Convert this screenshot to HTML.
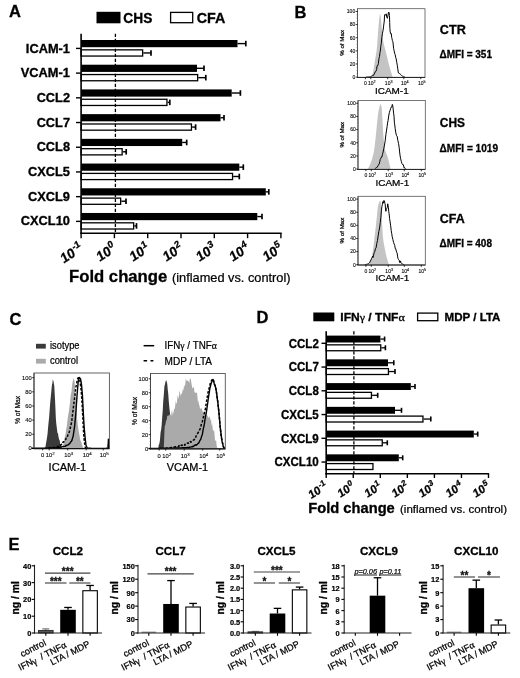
<!DOCTYPE html>
<html><head><meta charset="utf-8"><style>
html,body{margin:0;padding:0;background:#fff;width:520px;height:678px;overflow:hidden;}
svg{display:block;filter:blur(0.35px);}
text{font-family:"Liberation Sans",sans-serif;stroke:#000;stroke-width:0.24px;}
text[font-weight="bold"]{stroke-width:0.3px;}
text[font-size="5"],text[font-size="5.8"]{stroke-width:0.12px;fill:#111;}
text[font-size="7.9"]{stroke-width:0.22px;}
</style></head><body>
<svg width="520" height="678" viewBox="0 0 520 678">
<rect width="520" height="678" fill="#fff"/>
<text x="9" y="17.2" font-size="16.5" font-weight="bold">A</text>
<rect x="96.5" y="11.8" width="24" height="11.5" fill="#000"/>
<text x="123.3" y="22.6" font-size="13.8" font-weight="bold" textLength="29" lengthAdjust="spacingAndGlyphs">CHS</text>
<rect x="170.6" y="12.4" width="22.1" height="10.3" fill="#fff" stroke="#000" stroke-width="1.3"/>
<text x="196.8" y="22.6" font-size="13.8" font-weight="bold" textLength="28.6" lengthAdjust="spacingAndGlyphs">CFA</text>
<rect x="81.1" y="40" width="156.4" height="7.2" fill="#000"/>
<line x1="237.5" y1="43.6" x2="245.8" y2="43.6" stroke="#000" stroke-width="1.4"/>
<line x1="245.8" y1="40.8" x2="245.8" y2="46.4" stroke="#000" stroke-width="1.7"/>
<rect x="81.1" y="49.85" width="61.55" height="6.2" fill="#fff" stroke="#000" stroke-width="1.3"/>
<line x1="143.3" y1="52.95" x2="151" y2="52.95" stroke="#000" stroke-width="1.4"/>
<line x1="151" y1="50.15" x2="151" y2="55.75" stroke="#000" stroke-width="1.7"/>
<line x1="76" y1="48.4" x2="81.1" y2="48.4" stroke="#000" stroke-width="1.4"/>
<text x="70" y="52.5" font-size="12" font-weight="bold" text-anchor="end" textLength="44.17" lengthAdjust="spacingAndGlyphs">ICAM-1</text>
<rect x="81.1" y="64.71" width="115.9" height="7.2" fill="#000"/>
<line x1="197" y1="68.31" x2="204" y2="68.31" stroke="#000" stroke-width="1.4"/>
<line x1="204" y1="65.51" x2="204" y2="71.11" stroke="#000" stroke-width="1.7"/>
<rect x="81.1" y="74.56" width="116.55" height="6.2" fill="#fff" stroke="#000" stroke-width="1.3"/>
<line x1="198.3" y1="77.66" x2="205.8" y2="77.66" stroke="#000" stroke-width="1.4"/>
<line x1="205.8" y1="74.86" x2="205.8" y2="80.46" stroke="#000" stroke-width="1.7"/>
<line x1="76" y1="73.11" x2="81.1" y2="73.11" stroke="#000" stroke-width="1.4"/>
<text x="70" y="77.21" font-size="12" font-weight="bold" text-anchor="end" textLength="49.23" lengthAdjust="spacingAndGlyphs">VCAM-1</text>
<rect x="81.1" y="89.42" width="150.6" height="7.2" fill="#000"/>
<line x1="231.7" y1="93.02" x2="240.4" y2="93.02" stroke="#000" stroke-width="1.4"/>
<line x1="240.4" y1="90.22" x2="240.4" y2="95.82" stroke="#000" stroke-width="1.7"/>
<rect x="81.1" y="99.27" width="85.85" height="6.2" fill="#fff" stroke="#000" stroke-width="1.3"/>
<line x1="167.6" y1="102.37" x2="169.8" y2="102.37" stroke="#000" stroke-width="1.4"/>
<line x1="169.8" y1="99.57" x2="169.8" y2="105.17" stroke="#000" stroke-width="1.7"/>
<line x1="76" y1="97.82" x2="81.1" y2="97.82" stroke="#000" stroke-width="1.4"/>
<text x="70" y="101.92" font-size="12" font-weight="bold" text-anchor="end" textLength="33.35" lengthAdjust="spacingAndGlyphs">CCL2</text>
<rect x="81.1" y="114.13" width="139.4" height="7.2" fill="#000"/>
<line x1="220.5" y1="117.73" x2="224" y2="117.73" stroke="#000" stroke-width="1.4"/>
<line x1="224" y1="114.93" x2="224" y2="120.53" stroke="#000" stroke-width="1.7"/>
<rect x="81.1" y="123.98" width="110.35" height="6.2" fill="#fff" stroke="#000" stroke-width="1.3"/>
<line x1="192.1" y1="127.08" x2="195.6" y2="127.08" stroke="#000" stroke-width="1.4"/>
<line x1="195.6" y1="124.28" x2="195.6" y2="129.88" stroke="#000" stroke-width="1.7"/>
<line x1="76" y1="122.53" x2="81.1" y2="122.53" stroke="#000" stroke-width="1.4"/>
<text x="70" y="126.63" font-size="12" font-weight="bold" text-anchor="end" textLength="33.35" lengthAdjust="spacingAndGlyphs">CCL7</text>
<rect x="81.1" y="138.84" width="101.1" height="7.2" fill="#000"/>
<line x1="182.2" y1="142.44" x2="186.7" y2="142.44" stroke="#000" stroke-width="1.4"/>
<line x1="186.7" y1="139.64" x2="186.7" y2="145.24" stroke="#000" stroke-width="1.7"/>
<rect x="81.1" y="148.69" width="41.05" height="6.2" fill="#fff" stroke="#000" stroke-width="1.3"/>
<line x1="122.8" y1="151.79" x2="126.2" y2="151.79" stroke="#000" stroke-width="1.4"/>
<line x1="126.2" y1="148.99" x2="126.2" y2="154.59" stroke="#000" stroke-width="1.7"/>
<line x1="76" y1="147.24" x2="81.1" y2="147.24" stroke="#000" stroke-width="1.4"/>
<text x="70" y="151.34" font-size="12" font-weight="bold" text-anchor="end" textLength="33.35" lengthAdjust="spacingAndGlyphs">CCL8</text>
<rect x="81.1" y="163.55" width="158.2" height="7.2" fill="#000"/>
<line x1="239.3" y1="167.15" x2="243.3" y2="167.15" stroke="#000" stroke-width="1.4"/>
<line x1="243.3" y1="164.35" x2="243.3" y2="169.95" stroke="#000" stroke-width="1.7"/>
<rect x="81.1" y="173.4" width="151.45" height="6.2" fill="#fff" stroke="#000" stroke-width="1.3"/>
<line x1="233.2" y1="176.5" x2="239.3" y2="176.5" stroke="#000" stroke-width="1.4"/>
<line x1="239.3" y1="173.7" x2="239.3" y2="179.3" stroke="#000" stroke-width="1.7"/>
<line x1="76" y1="171.95" x2="81.1" y2="171.95" stroke="#000" stroke-width="1.4"/>
<text x="70" y="176.05" font-size="12" font-weight="bold" text-anchor="end" textLength="42.02" lengthAdjust="spacingAndGlyphs">CXCL5</text>
<rect x="81.1" y="188.26" width="184.7" height="7.2" fill="#000"/>
<line x1="265.8" y1="191.86" x2="268.8" y2="191.86" stroke="#000" stroke-width="1.4"/>
<line x1="268.8" y1="189.06" x2="268.8" y2="194.66" stroke="#000" stroke-width="1.7"/>
<rect x="81.1" y="198.11" width="39.55" height="6.2" fill="#fff" stroke="#000" stroke-width="1.3"/>
<line x1="121.3" y1="201.21" x2="126" y2="201.21" stroke="#000" stroke-width="1.4"/>
<line x1="126" y1="198.41" x2="126" y2="204.01" stroke="#000" stroke-width="1.7"/>
<line x1="76" y1="196.66" x2="81.1" y2="196.66" stroke="#000" stroke-width="1.4"/>
<text x="70" y="200.76" font-size="12" font-weight="bold" text-anchor="end" textLength="42.02" lengthAdjust="spacingAndGlyphs">CXCL9</text>
<rect x="81.1" y="212.97" width="176.2" height="7.2" fill="#000"/>
<line x1="257.3" y1="216.57" x2="262" y2="216.57" stroke="#000" stroke-width="1.4"/>
<line x1="262" y1="213.77" x2="262" y2="219.37" stroke="#000" stroke-width="1.7"/>
<rect x="81.1" y="222.82" width="52.55" height="6.2" fill="#fff" stroke="#000" stroke-width="1.3"/>
<line x1="134.3" y1="225.92" x2="136.5" y2="225.92" stroke="#000" stroke-width="1.4"/>
<line x1="136.5" y1="223.12" x2="136.5" y2="228.72" stroke="#000" stroke-width="1.7"/>
<line x1="76" y1="221.37" x2="81.1" y2="221.37" stroke="#000" stroke-width="1.4"/>
<text x="70" y="225.47" font-size="12" font-weight="bold" text-anchor="end" textLength="49.25" lengthAdjust="spacingAndGlyphs">CXCL10</text>
<line x1="115.4" y1="33.8" x2="115.4" y2="233" stroke="#000" stroke-width="1.3" stroke-dasharray="3.2 1.8"/>
<line x1="81.1" y1="33.8" x2="81.1" y2="234" stroke="#000" stroke-width="1.6"/>
<line x1="80.3" y1="233.3" x2="281.6" y2="233.3" stroke="#000" stroke-width="1.6"/>
<line x1="81.1" y1="233" x2="81.1" y2="238.2" stroke="#000" stroke-width="1.4"/>
<text transform="translate(83.1 251) rotate(-33) skewX(-8)" font-size="13.5" font-weight="bold" text-anchor="end">10<tspan font-size="9.5" dy="-5.5">-1</tspan></text>
<line x1="114.4" y1="233" x2="114.4" y2="238.2" stroke="#000" stroke-width="1.4"/>
<text transform="translate(116.4 251) rotate(-33) skewX(-8)" font-size="13.5" font-weight="bold" text-anchor="end">10<tspan font-size="9.5" dy="-5.5">0</tspan></text>
<line x1="147.7" y1="233" x2="147.7" y2="238.2" stroke="#000" stroke-width="1.4"/>
<text transform="translate(149.7 251) rotate(-33) skewX(-8)" font-size="13.5" font-weight="bold" text-anchor="end">10<tspan font-size="9.5" dy="-5.5">1</tspan></text>
<line x1="181" y1="233" x2="181" y2="238.2" stroke="#000" stroke-width="1.4"/>
<text transform="translate(183 251) rotate(-33) skewX(-8)" font-size="13.5" font-weight="bold" text-anchor="end">10<tspan font-size="9.5" dy="-5.5">2</tspan></text>
<line x1="214.3" y1="233" x2="214.3" y2="238.2" stroke="#000" stroke-width="1.4"/>
<text transform="translate(216.3 251) rotate(-33) skewX(-8)" font-size="13.5" font-weight="bold" text-anchor="end">10<tspan font-size="9.5" dy="-5.5">3</tspan></text>
<line x1="247.6" y1="233" x2="247.6" y2="238.2" stroke="#000" stroke-width="1.4"/>
<text transform="translate(249.6 251) rotate(-33) skewX(-8)" font-size="13.5" font-weight="bold" text-anchor="end">10<tspan font-size="9.5" dy="-5.5">4</tspan></text>
<line x1="280.9" y1="233" x2="280.9" y2="238.2" stroke="#000" stroke-width="1.4"/>
<text transform="translate(282.9 251) rotate(-33) skewX(-8)" font-size="13.5" font-weight="bold" text-anchor="end">10<tspan font-size="9.5" dy="-5.5">5</tspan></text>
<text x="69" y="282.4" font-size="16.2" font-weight="bold" textLength="98.3" lengthAdjust="spacingAndGlyphs">Fold change</text>
<text x="172" y="282" font-size="13" textLength="118.5" lengthAdjust="spacingAndGlyphs">(inflamed vs. control)</text>
<text x="294.6" y="18.3" font-size="16.5" font-weight="bold">B</text>
<path d="M371.3 77.1 L371.92 75.65 L372.7 73.36 L373.38 70.2 L374 66.67 L374.51 63.36 L375 60.04 L375.61 56.69 L376.2 53.35 L376.62 50.5 L377 46.92 L377.44 41.07 L377.9 34.46 L378.41 27.86 L378.9 22 L379.33 18.02 L379.7 15.44 L379.95 14.04 L380.2 14.12 L380.57 15.93 L381 19.37 L381.48 24.99 L382 31.18 L382.58 36.49 L383.2 41.02 L383.82 44.04 L384.5 46.66 L385.04 48.81 L385.63 51.08 L386.2 53.35 L386.74 55.59 L387.26 57.82 L387.8 60.04 L388.35 62.25 L388.91 64.46 L389.5 66.67 L390 68.41 L390.54 70.2 L391.06 71.89 L391.5 73.36 L392.18 75.65 L392.6 77.1 L392.6 77.1 L371.3 77.1 Z" fill="#c4c4c4" stroke="none"/>
<path d="M366 77.1 L366.32 77.08 L366.74 77.07 L367.24 77.06 L367.8 77.05 L368.4 77.02 L369.01 76.97 L369.61 76.88 L370.18 76.75 L370.7 76.58 L371.24 76.33 L371.79 76.04 L372.32 75.72 L372.84 75.35 L373.35 75.63 L373.83 74.36 L374.28 74.29 L374.7 73.09 L375.44 71.54 L376.07 71.2 L376.61 69.5 L377.1 65.78 L377.8 65.54 L378.4 63.5 L378.94 58.66 L379.51 56.58 L380 52.47 L380.44 50 L380.8 46.3 L381.27 43.47 L381.8 37.91 L382.46 33.16 L383.1 30.14 L383.6 26.14 L384 23.06 L384.27 21.02 L384.5 16.07 L384.76 14.73 L385.1 14.65 L385.61 15.26 L386.2 13.82 L386.82 17.18 L387.4 18.27 L387.84 16.2 L388.2 14.22 L388.51 12.27 L388.8 13.09 L389.12 12.71 L389.4 15.58 L389.56 18.03 L389.7 22.51 L389.9 28.53 L390.2 31.87 L390.74 33.83 L391.3 33.63 L391.66 37.2 L392 38.72 L392.45 40.76 L392.9 41.66 L393.24 44.92 L393.6 48.3 L394.04 50.38 L394.6 53.13 L395.11 54.43 L395.68 57.29 L396.2 58.92 L396.75 62.38 L397.3 65.38 L397.79 68.86 L398.34 72.91 L398.9 73.07 L399.47 73.54 L400.05 73.71 L400.6 74.62 L401.32 75.3 L402 75.79 L402.63 76.21 L403.3 76.58 L403.9 76.79 L404.54 76.97 L405 77.1" fill="none" stroke="#000" stroke-width="1.0" stroke-linejoin="round"/>
<rect x="357.5" y="8.7" width="67.5" height="68.7" fill="none" stroke="#555" stroke-width="0.8"/>
<line x1="357.5" y1="8.7" x2="357.5" y2="77.8" stroke="#555" stroke-width="1"/>
<line x1="357.1" y1="77.4" x2="425" y2="77.4" stroke="#222" stroke-width="1"/>
<line x1="356.5" y1="73.82" x2="357.5" y2="73.82" stroke="#666" stroke-width="0.6"/>
<line x1="356.5" y1="70.54" x2="357.5" y2="70.54" stroke="#666" stroke-width="0.6"/>
<line x1="356.5" y1="67.26" x2="357.5" y2="67.26" stroke="#666" stroke-width="0.6"/>
<line x1="356.5" y1="60.7" x2="357.5" y2="60.7" stroke="#666" stroke-width="0.6"/>
<line x1="356.5" y1="57.42" x2="357.5" y2="57.42" stroke="#666" stroke-width="0.6"/>
<line x1="356.5" y1="54.14" x2="357.5" y2="54.14" stroke="#666" stroke-width="0.6"/>
<line x1="356.5" y1="47.58" x2="357.5" y2="47.58" stroke="#666" stroke-width="0.6"/>
<line x1="356.5" y1="44.3" x2="357.5" y2="44.3" stroke="#666" stroke-width="0.6"/>
<line x1="356.5" y1="41.02" x2="357.5" y2="41.02" stroke="#666" stroke-width="0.6"/>
<line x1="356.5" y1="34.46" x2="357.5" y2="34.46" stroke="#666" stroke-width="0.6"/>
<line x1="356.5" y1="31.18" x2="357.5" y2="31.18" stroke="#666" stroke-width="0.6"/>
<line x1="356.5" y1="27.9" x2="357.5" y2="27.9" stroke="#666" stroke-width="0.6"/>
<line x1="356.5" y1="21.34" x2="357.5" y2="21.34" stroke="#666" stroke-width="0.6"/>
<line x1="356.5" y1="18.06" x2="357.5" y2="18.06" stroke="#666" stroke-width="0.6"/>
<line x1="356.5" y1="14.78" x2="357.5" y2="14.78" stroke="#666" stroke-width="0.6"/>
<line x1="355.7" y1="77.1" x2="357.5" y2="77.1" stroke="#000" stroke-width="0.8"/>
<text x="355.2" y="78.9" font-size="5" text-anchor="end">0</text>
<line x1="355.7" y1="63.98" x2="357.5" y2="63.98" stroke="#000" stroke-width="0.8"/>
<text x="355.2" y="65.78" font-size="5" text-anchor="end">20</text>
<line x1="355.7" y1="50.86" x2="357.5" y2="50.86" stroke="#000" stroke-width="0.8"/>
<text x="355.2" y="52.66" font-size="5" text-anchor="end">40</text>
<line x1="355.7" y1="37.74" x2="357.5" y2="37.74" stroke="#000" stroke-width="0.8"/>
<text x="355.2" y="39.54" font-size="5" text-anchor="end">60</text>
<line x1="355.7" y1="24.62" x2="357.5" y2="24.62" stroke="#000" stroke-width="0.8"/>
<text x="355.2" y="26.42" font-size="5" text-anchor="end">80</text>
<line x1="355.7" y1="11.5" x2="357.5" y2="11.5" stroke="#000" stroke-width="0.8"/>
<text x="355.2" y="13.3" font-size="5" text-anchor="end">100</text>
<text x="343.6" y="42.9" font-size="6.2" text-anchor="middle" transform="rotate(-90 343.6 42.9)" fill="#222">% of Max</text>
<line x1="365.4" y1="77.4" x2="365.4" y2="79.2" stroke="#000" stroke-width="0.8"/>
<text x="365.4" y="85.3" font-size="5" text-anchor="middle">0</text>
<line x1="370.8" y1="77.4" x2="370.8" y2="79.2" stroke="#000" stroke-width="0.8"/>
<text x="371.8" y="85.3" font-size="5" text-anchor="middle">10<tspan font-size="3.75" dy="-2">2</tspan></text>
<line x1="387.7" y1="77.4" x2="387.7" y2="79.2" stroke="#000" stroke-width="0.8"/>
<text x="388.7" y="85.3" font-size="5" text-anchor="middle">10<tspan font-size="3.75" dy="-2">3</tspan></text>
<line x1="403.8" y1="77.4" x2="403.8" y2="79.2" stroke="#000" stroke-width="0.8"/>
<text x="404.8" y="85.3" font-size="5" text-anchor="middle">10<tspan font-size="3.75" dy="-2">4</tspan></text>
<line x1="420.8" y1="77.4" x2="420.8" y2="79.2" stroke="#000" stroke-width="0.8"/>
<text x="421.8" y="85.3" font-size="5" text-anchor="middle">10<tspan font-size="3.75" dy="-2">5</tspan></text>
<text x="375" y="93.8" font-size="9.8" textLength="33.7" lengthAdjust="spacingAndGlyphs">ICAM-1</text>
<text x="439.8" y="33.9" font-size="12.6" font-weight="bold" textLength="26" lengthAdjust="spacingAndGlyphs">CTR</text>
<text x="439.5" y="57.6" font-size="10.6" font-weight="bold" textLength="52.5" lengthAdjust="spacingAndGlyphs">ΔMFI = 351</text>
<path d="M367.64 169.1 L368.02 168.46 L368.56 167.54 L369.17 166.45 L369.74 165.28 L370.27 164.08 L370.8 162.77 L371.32 161.33 L371.85 159.69 L372.39 157.85 L372.94 155.83 L373.47 153.63 L373.95 151.27 L374.7 146.03 L375.36 140.08 L376.06 133.13 L376.76 126 L377.46 119.28 L378.16 113.43 L378.88 109.26 L379.57 106.39 L380.16 104.68 L380.69 104.29 L381.21 105.2 L381.67 107.77 L382.04 112.83 L382.38 119.03 L382.71 125.35 L383.08 131.66 L383.54 137.6 L384.06 142.85 L384.59 146.8 L385.18 149.89 L385.87 152.17 L386.59 154.1 L387.29 156.12 L387.99 158.31 L388.72 161.11 L389.4 163.9 L389.95 166.3 L390.38 168.11 L390.65 168.87 L390.8 169.1 L390.8 169.1 L367.64 169.1 Z" fill="#c4c4c4" stroke="none"/>
<path d="M374.65 169.1 L375.03 168.72 L375.57 168.21 L376.2 167.57 L376.85 167.53 L377.46 167.05 L378.03 165.32 L378.62 164.86 L379.2 163.91 L379.75 161.83 L380.27 159.31 L380.86 158.26 L381.41 157.01 L381.92 157.05 L382.38 154.72 L383.12 152.02 L383.78 148.64 L384.48 145.1 L385.18 140.83 L385.91 134.34 L386.59 130.07 L387.1 126.56 L387.57 123.1 L388.1 120.38 L388.69 116.04 L389.39 112.52 L390.1 110.26 L390.68 108.44 L391.22 107.04 L391.8 106.99 L392.34 104.4 L392.78 105.85 L393.19 109.21 L393.62 113.23 L394.03 116.27 L394.37 122.22 L394.73 124.86 L395.18 128.5 L395.71 132.19 L396.39 135.27 L397.12 136.18 L397.84 140.41 L398.52 143.29 L399.11 147.23 L399.64 151.97 L400.12 155.95 L400.63 158.71 L401.3 161.32 L402.03 163.67 L402.69 164.73 L403.43 164.79 L403.96 167.72 L404.57 167.53 L405.14 168.46 L405.54 169.1" fill="none" stroke="#000" stroke-width="1.0" stroke-linejoin="round"/>
<rect x="358" y="100.5" width="67.3" height="68.9" fill="none" stroke="#555" stroke-width="0.8"/>
<line x1="358" y1="100.5" x2="358" y2="169.8" stroke="#555" stroke-width="1"/>
<line x1="357.6" y1="169.4" x2="425.3" y2="169.4" stroke="#222" stroke-width="1"/>
<line x1="357" y1="165.81" x2="358" y2="165.81" stroke="#666" stroke-width="0.6"/>
<line x1="357" y1="162.52" x2="358" y2="162.52" stroke="#666" stroke-width="0.6"/>
<line x1="357" y1="159.23" x2="358" y2="159.23" stroke="#666" stroke-width="0.6"/>
<line x1="357" y1="152.65" x2="358" y2="152.65" stroke="#666" stroke-width="0.6"/>
<line x1="357" y1="149.36" x2="358" y2="149.36" stroke="#666" stroke-width="0.6"/>
<line x1="357" y1="146.07" x2="358" y2="146.07" stroke="#666" stroke-width="0.6"/>
<line x1="357" y1="139.49" x2="358" y2="139.49" stroke="#666" stroke-width="0.6"/>
<line x1="357" y1="136.2" x2="358" y2="136.2" stroke="#666" stroke-width="0.6"/>
<line x1="357" y1="132.91" x2="358" y2="132.91" stroke="#666" stroke-width="0.6"/>
<line x1="357" y1="126.33" x2="358" y2="126.33" stroke="#666" stroke-width="0.6"/>
<line x1="357" y1="123.04" x2="358" y2="123.04" stroke="#666" stroke-width="0.6"/>
<line x1="357" y1="119.75" x2="358" y2="119.75" stroke="#666" stroke-width="0.6"/>
<line x1="357" y1="113.17" x2="358" y2="113.17" stroke="#666" stroke-width="0.6"/>
<line x1="357" y1="109.88" x2="358" y2="109.88" stroke="#666" stroke-width="0.6"/>
<line x1="357" y1="106.59" x2="358" y2="106.59" stroke="#666" stroke-width="0.6"/>
<line x1="356.2" y1="169.1" x2="358" y2="169.1" stroke="#000" stroke-width="0.8"/>
<text x="355.7" y="170.9" font-size="5" text-anchor="end">0</text>
<line x1="356.2" y1="155.94" x2="358" y2="155.94" stroke="#000" stroke-width="0.8"/>
<text x="355.7" y="157.74" font-size="5" text-anchor="end">20</text>
<line x1="356.2" y1="142.78" x2="358" y2="142.78" stroke="#000" stroke-width="0.8"/>
<text x="355.7" y="144.58" font-size="5" text-anchor="end">40</text>
<line x1="356.2" y1="129.62" x2="358" y2="129.62" stroke="#000" stroke-width="0.8"/>
<text x="355.7" y="131.42" font-size="5" text-anchor="end">60</text>
<line x1="356.2" y1="116.46" x2="358" y2="116.46" stroke="#000" stroke-width="0.8"/>
<text x="355.7" y="118.26" font-size="5" text-anchor="end">80</text>
<line x1="356.2" y1="103.3" x2="358" y2="103.3" stroke="#000" stroke-width="0.8"/>
<text x="355.7" y="105.1" font-size="5" text-anchor="end">100</text>
<text x="343.6" y="134.7" font-size="6.2" text-anchor="middle" transform="rotate(-90 343.6 134.7)" fill="#222">% of Max</text>
<line x1="365.9" y1="169.4" x2="365.9" y2="171.2" stroke="#000" stroke-width="0.8"/>
<text x="365.9" y="177.3" font-size="5" text-anchor="middle">0</text>
<line x1="371.3" y1="169.4" x2="371.3" y2="171.2" stroke="#000" stroke-width="0.8"/>
<text x="372.3" y="177.3" font-size="5" text-anchor="middle">10<tspan font-size="3.75" dy="-2">2</tspan></text>
<line x1="388.2" y1="169.4" x2="388.2" y2="171.2" stroke="#000" stroke-width="0.8"/>
<text x="389.2" y="177.3" font-size="5" text-anchor="middle">10<tspan font-size="3.75" dy="-2">3</tspan></text>
<line x1="404.3" y1="169.4" x2="404.3" y2="171.2" stroke="#000" stroke-width="0.8"/>
<text x="405.3" y="177.3" font-size="5" text-anchor="middle">10<tspan font-size="3.75" dy="-2">4</tspan></text>
<line x1="421.3" y1="169.4" x2="421.3" y2="171.2" stroke="#000" stroke-width="0.8"/>
<text x="422.3" y="177.3" font-size="5" text-anchor="middle">10<tspan font-size="3.75" dy="-2">5</tspan></text>
<text x="375.5" y="185.8" font-size="9.8" textLength="33.7" lengthAdjust="spacingAndGlyphs">ICAM-1</text>
<text x="439.8" y="126.7" font-size="12.6" font-weight="bold" textLength="25.2" lengthAdjust="spacingAndGlyphs">CHS</text>
<text x="439.5" y="151.5" font-size="10.6" font-weight="bold" textLength="58.5" lengthAdjust="spacingAndGlyphs">ΔMFI = 1019</text>
<path d="M369.04 264.7 L369.43 263.81 L370 262.55 L370.61 261.06 L371.14 259.52 L371.89 256.3 L372.55 252.5 L373.25 247.96 L373.95 242.72 L374.65 236.6 L375.36 230.13 L376.09 223.65 L376.76 217.53 L377.27 212.16 L377.74 207.76 L378.3 204.85 L378.87 202.9 L379.44 201.38 L379.99 200.81 L380.51 201.35 L380.97 203.56 L381.34 208.47 L381.67 214.78 L382.03 221.86 L382.38 228.75 L382.69 233.99 L383.08 238.53 L383.74 242.9 L384.48 246.92 L385.19 250.61 L385.89 253.94 L386.59 256.91 L387.29 259.52 L388.03 261.9 L388.69 263.72 L389.13 264.47 L389.4 264.7 L389.4 264.7 L369.04 264.7 Z" fill="#c4c4c4" stroke="none"/>
<path d="M364.83 264.7 L365.16 264.62 L365.62 264.52 L366.16 264.41 L366.75 264.27 L367.34 264.11 L367.88 263.92 L368.34 263.72 L368.96 263.32 L369.48 262.87 L369.95 261.99 L370.44 260.98 L370.97 259.96 L371.5 258.53 L372.02 257.94 L372.55 256.31 L373.09 257.49 L373.64 255.13 L374.17 252.63 L374.65 252.11 L375.4 248.79 L376.06 247.94 L376.76 243.7 L377.46 240.63 L378.16 235.84 L378.87 231.38 L379.59 228.02 L380.27 222.48 L380.86 217.33 L381.39 210.87 L381.89 206.54 L382.38 204.45 L382.86 201.7 L383.36 203.13 L383.94 200.43 L384.48 201.06 L384.86 203.37 L385.18 204.03 L385.52 208.95 L385.89 211.33 L386.37 209.24 L386.87 208.23 L387.31 207.4 L387.71 203.79 L388.07 205.58 L388.41 207.29 L388.74 211.69 L389.11 213.62 L389.58 218.48 L390.1 221.95 L390.66 225.79 L391.22 230.66 L391.69 233.4 L392.2 236.65 L392.9 239.58 L393.61 242.49 L394.2 244.1 L394.73 245.27 L395.23 248.67 L395.71 248.55 L396.21 250.81 L396.7 252.34 L397.12 253.06 L397.54 256.09 L397.99 258.39 L398.52 259.57 L399.15 260.12 L399.92 262.78 L400.4 260.92 L400.93 262.74 L401.49 263.27 L402.03 263.72 L402.61 264.06 L403.22 264.34 L403.76 264.55 L404.14 264.7" fill="none" stroke="#000" stroke-width="1.0" stroke-linejoin="round"/>
<rect x="358" y="196.3" width="67.3" height="68.7" fill="none" stroke="#555" stroke-width="0.8"/>
<line x1="358" y1="196.3" x2="358" y2="265.4" stroke="#555" stroke-width="1"/>
<line x1="357.6" y1="265" x2="425.3" y2="265" stroke="#222" stroke-width="1"/>
<line x1="357" y1="261.42" x2="358" y2="261.42" stroke="#666" stroke-width="0.6"/>
<line x1="357" y1="258.14" x2="358" y2="258.14" stroke="#666" stroke-width="0.6"/>
<line x1="357" y1="254.86" x2="358" y2="254.86" stroke="#666" stroke-width="0.6"/>
<line x1="357" y1="248.3" x2="358" y2="248.3" stroke="#666" stroke-width="0.6"/>
<line x1="357" y1="245.02" x2="358" y2="245.02" stroke="#666" stroke-width="0.6"/>
<line x1="357" y1="241.74" x2="358" y2="241.74" stroke="#666" stroke-width="0.6"/>
<line x1="357" y1="235.18" x2="358" y2="235.18" stroke="#666" stroke-width="0.6"/>
<line x1="357" y1="231.9" x2="358" y2="231.9" stroke="#666" stroke-width="0.6"/>
<line x1="357" y1="228.62" x2="358" y2="228.62" stroke="#666" stroke-width="0.6"/>
<line x1="357" y1="222.06" x2="358" y2="222.06" stroke="#666" stroke-width="0.6"/>
<line x1="357" y1="218.78" x2="358" y2="218.78" stroke="#666" stroke-width="0.6"/>
<line x1="357" y1="215.5" x2="358" y2="215.5" stroke="#666" stroke-width="0.6"/>
<line x1="357" y1="208.94" x2="358" y2="208.94" stroke="#666" stroke-width="0.6"/>
<line x1="357" y1="205.66" x2="358" y2="205.66" stroke="#666" stroke-width="0.6"/>
<line x1="357" y1="202.38" x2="358" y2="202.38" stroke="#666" stroke-width="0.6"/>
<line x1="356.2" y1="264.7" x2="358" y2="264.7" stroke="#000" stroke-width="0.8"/>
<text x="355.7" y="266.5" font-size="5" text-anchor="end">0</text>
<line x1="356.2" y1="251.58" x2="358" y2="251.58" stroke="#000" stroke-width="0.8"/>
<text x="355.7" y="253.38" font-size="5" text-anchor="end">20</text>
<line x1="356.2" y1="238.46" x2="358" y2="238.46" stroke="#000" stroke-width="0.8"/>
<text x="355.7" y="240.26" font-size="5" text-anchor="end">40</text>
<line x1="356.2" y1="225.34" x2="358" y2="225.34" stroke="#000" stroke-width="0.8"/>
<text x="355.7" y="227.14" font-size="5" text-anchor="end">60</text>
<line x1="356.2" y1="212.22" x2="358" y2="212.22" stroke="#000" stroke-width="0.8"/>
<text x="355.7" y="214.02" font-size="5" text-anchor="end">80</text>
<line x1="356.2" y1="199.1" x2="358" y2="199.1" stroke="#000" stroke-width="0.8"/>
<text x="355.7" y="200.9" font-size="5" text-anchor="end">100</text>
<text x="343.6" y="230.5" font-size="6.2" text-anchor="middle" transform="rotate(-90 343.6 230.5)" fill="#222">% of Max</text>
<line x1="365.9" y1="265" x2="365.9" y2="266.8" stroke="#000" stroke-width="0.8"/>
<text x="365.9" y="272.9" font-size="5" text-anchor="middle">0</text>
<line x1="371.3" y1="265" x2="371.3" y2="266.8" stroke="#000" stroke-width="0.8"/>
<text x="372.3" y="272.9" font-size="5" text-anchor="middle">10<tspan font-size="3.75" dy="-2">2</tspan></text>
<line x1="388.2" y1="265" x2="388.2" y2="266.8" stroke="#000" stroke-width="0.8"/>
<text x="389.2" y="272.9" font-size="5" text-anchor="middle">10<tspan font-size="3.75" dy="-2">3</tspan></text>
<line x1="404.3" y1="265" x2="404.3" y2="266.8" stroke="#000" stroke-width="0.8"/>
<text x="405.3" y="272.9" font-size="5" text-anchor="middle">10<tspan font-size="3.75" dy="-2">4</tspan></text>
<line x1="421.3" y1="265" x2="421.3" y2="266.8" stroke="#000" stroke-width="0.8"/>
<text x="422.3" y="272.9" font-size="5" text-anchor="middle">10<tspan font-size="3.75" dy="-2">5</tspan></text>
<text x="375.5" y="281.4" font-size="9.8" textLength="33.7" lengthAdjust="spacingAndGlyphs">ICAM-1</text>
<text x="439.8" y="222.8" font-size="12.6" font-weight="bold" textLength="25" lengthAdjust="spacingAndGlyphs">CFA</text>
<text x="439.5" y="246.8" font-size="10.6" font-weight="bold" textLength="52.5" lengthAdjust="spacingAndGlyphs">ΔMFI = 408</text>
<text x="9.5" y="325.2" font-size="16.5" font-weight="bold">C</text>
<rect x="36" y="343.8" width="9.8" height="4.8" fill="#3a3a3a"/>
<text x="50" y="348.9" font-size="11" textLength="29.5" lengthAdjust="spacingAndGlyphs">isotype</text>
<rect x="36" y="358.8" width="9.8" height="4.8" fill="#aaa"/>
<text x="50" y="364.4" font-size="11" textLength="28" lengthAdjust="spacingAndGlyphs">control</text>
<line x1="143.6" y1="345.7" x2="154.2" y2="345.7" stroke="#000" stroke-width="1.5"/>
<text x="164.5" y="349" font-size="11" textLength="52.5" lengthAdjust="spacingAndGlyphs">IFN<tspan font-family="Liberation Serif">γ</tspan> / TNF<tspan font-family="Liberation Serif">α</tspan></text>
<line x1="143.6" y1="360.8" x2="153.4" y2="360.8" stroke="#000" stroke-width="1.5" stroke-dasharray="3.5 3.4"/>
<text x="164.5" y="364.8" font-size="11" textLength="47.5" lengthAdjust="spacingAndGlyphs">MDP / LTA</text>
<path d="M44.41 448.4 L44.82 447.55 L45.4 447.18 L45.98 443.62 L46.51 440.76 L47.03 437.42 L47.56 433.86 L48.1 427.3 L48.65 421.8 L49.14 417.19 L49.71 409.13 L50.24 402.2 L50.88 395.99 L51.5 389.16 L52.01 384.33 L52.45 382.88 L52.77 379.18 L53.08 380.37 L53.46 380.96 L53.87 383.73 L54.27 385.77 L54.66 392.86 L55.06 400.21 L55.45 408.98 L55.82 417.77 L56.24 423.29 L56.82 428 L57.5 433.37 L58 433.33 L58.54 436.96 L59.08 439.55 L59.62 439.9 L60.15 444.09 L60.65 443.73 L61.38 447.07 L61.91 448.4 L61.91 448.4 L44.41 448.4 Z" fill="#3a3a3a" stroke="none"/>
<path d="M62.55 448.4 L62.96 446.49 L63.54 443.9 L64.12 440.81 L64.65 437.29 L65.17 436.05 L65.7 433.04 L66.23 429.34 L66.75 426.66 L67.28 421.92 L67.8 417.97 L68.33 413.89 L68.85 412.08 L69.38 407.33 L69.9 403.59 L70.43 397.4 L70.98 393.73 L71.53 391.76 L72.01 385.81 L72.53 382.22 L72.96 380.45 L73.36 378.37 L73.74 378.67 L74.14 379.97 L74.53 380.8 L74.84 385.49 L75.16 389.68 L75.55 395.46 L75.95 402.78 L76.3 408.61 L76.74 415.83 L77.21 419.41 L77.76 424.95 L78.32 428.7 L78.85 432.44 L79.37 434.79 L79.9 437.92 L80.39 440.79 L80.89 440.87 L81.47 442.76 L82.06 444.5 L82.75 446.68 L83.4 447.69 L83.84 448.4 L83.84 448.4 L62.55 448.4 Z" fill="#aaa" stroke="none"/>
<path d="M48.35 448.26 L48.66 448.21 L49.05 448.16 L49.52 448.09 L50.04 448.02 L50.61 447.94 L51.21 447.86 L51.82 447.77 L52.44 447.68 L53.05 447.58 L53.63 447.48 L54.17 447.37 L54.66 447.27 L55.26 447.13 L55.85 446.99 L56.41 446.84 L56.96 446.69 L57.48 446.52 L57.99 446.35 L58.47 446.71 L58.94 446.38 L59.39 445.83 L60.01 445.12 L60.56 445.3 L61.07 444.86 L61.56 444.23 L62.04 443.12 L62.55 443.28 L63.08 442.1 L63.6 441.68 L64.13 441.75 L64.65 440.72 L65.18 440.17 L65.7 439.45 L66.23 437.94 L66.78 438.04 L67.32 437.12 L67.86 435 L68.37 434.43 L68.85 433.4 L69.52 431.14 L70.13 428.77 L70.7 425.63 L71.22 423.91 L71.81 420.38 L72.3 416.26 L72.8 412.43 L73.33 407.87 L73.85 403.72 L74.38 399.99 L74.9 395.76 L75.43 390.63 L75.95 386.62 L76.49 384.6 L77.04 381.26 L77.53 379.19 L78.1 377.81 L78.63 378.02 L79.25 378.24 L79.9 380.62 L80.54 385.17 L81.16 390.2 L81.74 398.2 L82.26 406.71 L82.67 414.36 L83.05 422.15 L83.44 429.71 L83.84 436.07 L84.23 440.45 L84.63 443.64 L85.15 446.7 L85.57 448.26" fill="none" stroke="#000" stroke-width="1.5" stroke-dasharray="2.6 1.6" stroke-linejoin="round"/>
<path d="M31.47 448.26 L31.74 448.25 L32.03 448.25 L32.35 448.25 L32.7 448.24 L33.07 448.24 L33.46 448.24 L33.88 448.23 L34.32 448.23 L34.77 448.23 L35.25 448.22 L35.74 448.22 L36.25 448.21 L36.78 448.21 L37.31 448.21 L37.86 448.2 L38.42 448.2 L39 448.19 L39.58 448.19 L40.16 448.18 L40.76 448.18 L41.36 448.17 L41.96 448.17 L42.57 448.16 L43.18 448.16 L43.79 448.15 L44.4 448.14 L45.01 448.13 L45.61 448.13 L46.22 448.12 L46.81 448.11 L47.4 448.1 L47.98 448.09 L48.55 448.08 L49.12 448.07 L49.67 448.06 L50.21 448.05 L50.73 448.04 L51.25 448.03 L51.74 448.01 L52.22 448 L52.68 447.99 L53.12 447.97 L53.54 447.96 L53.94 447.94 L54.31 447.92 L54.66 447.91 L55.63 447.85 L56.49 447.79 L57.24 447.72 L57.9 447.66 L58.48 447.58 L58.99 447.51 L59.45 447.43 L59.86 447.34 L60.24 447.25 L60.6 447.16 L60.96 447.06 L61.32 446.96 L61.7 446.86 L62.1 446.75 L62.55 446.63 L63.14 446.49 L63.73 446.35 L64.31 446.34 L64.88 446.37 L65.45 446.29 L66 445.29 L66.53 445.49 L67.04 445.18 L67.53 445.13 L68 445.1 L68.44 444.45 L68.85 444.35 L69.58 443.5 L70.19 442.93 L70.72 441.95 L71.19 441.57 L71.61 441.01 L72.01 440.1 L72.65 437.68 L73.12 436.36 L73.59 433.17 L74.13 429.59 L74.66 425.92 L75.16 420.43 L75.82 413.57 L76.43 404.5 L76.99 396.26 L77.53 389.4 L78.09 382.86 L78.63 378.71 L79.11 378.03 L79.58 377.51 L80.06 378.47 L80.53 378.79 L81 381.29 L81.47 384.3 L81.94 389.63 L82.42 395.3 L82.88 403.92 L83.37 413.99 L83.98 424.44 L84.63 432.62 L85.27 439.21 L85.89 444.38 L86.37 446.35 L86.99 447.27 L87.14 447.69 L87.16 447.96 L87.68 448.13 L89.36 448.26 L89.67 448.27 L90.02 448.29 L90.4 448.3 L90.81 448.31 L91.26 448.33 L91.73 448.34 L92.23 448.35 L92.75 448.36 L93.3 448.37 L93.86 448.39 L94.43 448.39 L95.03 448.4 L95.63 448.4 L96.24 448.4 L96.86 448.4 L97.48 448.4 L98.1 448.4 L98.73 448.4 L99.35 448.4 L99.97 448.4 L100.57 448.4 L101.17 448.4 L101.76 448.4 L102.33 448.4 L102.88 448.4 L103.42 448.4 L103.93 448.39 L104.42 448.38 L104.88 448.36 L105.31 448.35 L105.72 448.33 L106.08 448.31 L106.42 448.28 L106.71 448.26 L108.39 447.82 L107.97 446.49 L108.25 442.72 L108.44 439.16 L108.68 442.91 L108.92 447.27 L109.18 448.26 L109.39 448.26" fill="none" stroke="#000" stroke-width="1.4" stroke-linejoin="round"/>
<rect x="34" y="373" width="75.4" height="75.6" fill="none" stroke="#555" stroke-width="0.9"/>
<line x1="34" y1="373" x2="34" y2="449" stroke="#444" stroke-width="1"/>
<line x1="33.6" y1="448.6" x2="109.4" y2="448.6" stroke="#111" stroke-width="1.2"/>
<line x1="33" y1="444.87" x2="34" y2="444.87" stroke="#666" stroke-width="0.6"/>
<line x1="33" y1="441.33" x2="34" y2="441.33" stroke="#666" stroke-width="0.6"/>
<line x1="33" y1="437.8" x2="34" y2="437.8" stroke="#666" stroke-width="0.6"/>
<line x1="33" y1="430.73" x2="34" y2="430.73" stroke="#666" stroke-width="0.6"/>
<line x1="33" y1="427.19" x2="34" y2="427.19" stroke="#666" stroke-width="0.6"/>
<line x1="33" y1="423.66" x2="34" y2="423.66" stroke="#666" stroke-width="0.6"/>
<line x1="33" y1="416.59" x2="34" y2="416.59" stroke="#666" stroke-width="0.6"/>
<line x1="33" y1="413.05" x2="34" y2="413.05" stroke="#666" stroke-width="0.6"/>
<line x1="33" y1="409.51" x2="34" y2="409.51" stroke="#666" stroke-width="0.6"/>
<line x1="33" y1="402.44" x2="34" y2="402.44" stroke="#666" stroke-width="0.6"/>
<line x1="33" y1="398.91" x2="34" y2="398.91" stroke="#666" stroke-width="0.6"/>
<line x1="33" y1="395.38" x2="34" y2="395.38" stroke="#666" stroke-width="0.6"/>
<line x1="33" y1="388.31" x2="34" y2="388.31" stroke="#666" stroke-width="0.6"/>
<line x1="33" y1="384.77" x2="34" y2="384.77" stroke="#666" stroke-width="0.6"/>
<line x1="33" y1="381.24" x2="34" y2="381.24" stroke="#666" stroke-width="0.6"/>
<line x1="32.2" y1="448.4" x2="34" y2="448.4" stroke="#000" stroke-width="0.8"/>
<text x="31.7" y="450.49" font-size="5.8" text-anchor="end">0</text>
<line x1="32.2" y1="434.26" x2="34" y2="434.26" stroke="#000" stroke-width="0.8"/>
<text x="31.7" y="436.35" font-size="5.8" text-anchor="end">20</text>
<line x1="32.2" y1="420.12" x2="34" y2="420.12" stroke="#000" stroke-width="0.8"/>
<text x="31.7" y="422.21" font-size="5.8" text-anchor="end">40</text>
<line x1="32.2" y1="405.98" x2="34" y2="405.98" stroke="#000" stroke-width="0.8"/>
<text x="31.7" y="408.07" font-size="5.8" text-anchor="end">60</text>
<line x1="32.2" y1="391.84" x2="34" y2="391.84" stroke="#000" stroke-width="0.8"/>
<text x="31.7" y="393.93" font-size="5.8" text-anchor="end">80</text>
<line x1="32.2" y1="377.7" x2="34" y2="377.7" stroke="#000" stroke-width="0.8"/>
<text x="31.7" y="379.79" font-size="5.8" text-anchor="end">100</text>
<text x="19.8" y="409.9" font-size="6.8" text-anchor="middle" transform="rotate(-90 19.8 409.9)" fill="#222">% of Max</text>
<line x1="42.7" y1="448.6" x2="42.7" y2="450.4" stroke="#000" stroke-width="0.8"/>
<text x="42.7" y="457.4" font-size="5.8" text-anchor="middle">0</text>
<line x1="49.2" y1="448.6" x2="49.2" y2="450.4" stroke="#000" stroke-width="0.8"/>
<text x="50.2" y="457.4" font-size="5.8" text-anchor="middle">10<tspan font-size="4.35" dy="-2">2</tspan></text>
<line x1="67.7" y1="448.6" x2="67.7" y2="450.4" stroke="#000" stroke-width="0.8"/>
<text x="68.7" y="457.4" font-size="5.8" text-anchor="middle">10<tspan font-size="4.35" dy="-2">3</tspan></text>
<line x1="86.2" y1="448.6" x2="86.2" y2="450.4" stroke="#000" stroke-width="0.8"/>
<text x="87.2" y="457.4" font-size="5.8" text-anchor="middle">10<tspan font-size="4.35" dy="-2">4</tspan></text>
<line x1="103.2" y1="448.6" x2="103.2" y2="450.4" stroke="#000" stroke-width="0.8"/>
<text x="104.2" y="457.4" font-size="5.8" text-anchor="middle">10<tspan font-size="4.35" dy="-2">5</tspan></text>
<text x="48.6" y="471.2" font-size="11" textLength="37.6" lengthAdjust="spacingAndGlyphs">ICAM-1</text>
<path d="M158.25 448.6 L158.73 445.01 L159.36 443.81 L159.96 440.08 L160.62 432.06 L161.12 429.88 L161.66 424.9 L162.2 417.4 L162.74 410.57 L163.27 400.51 L163.77 395.18 L164.43 386.36 L165.03 383.98 L165.61 381.21 L166.14 379.97 L166.56 381.37 L166.93 382.29 L167.31 384.5 L167.72 389.41 L168.24 393.75 L168.82 402 L169.44 408.33 L170.08 414.01 L170.72 418.31 L171.34 425.4 L171.91 430.79 L172.45 437.37 L173.07 442.86 L173.55 448.6 L173.55 448.6 L158.25 448.6 Z" fill="#3a3a3a" stroke="none"/>
<path d="M163.77 448.6 L164.05 441.84 L164.4 432.35 L164.69 426.53 L165.03 425.83 L165.48 424.36 L166.14 420.3 L166.62 420.16 L167.19 415.64 L167.82 415.72 L168.5 415.57 L168.99 415.35 L169.52 414.11 L170.08 417.19 L170.64 414.61 L171.17 416.02 L171.66 410.31 L172.31 415.58 L172.89 409.73 L173.46 414.19 L174.03 408.7 L174.62 409.13 L175.21 406.09 L175.8 400.41 L176.39 404.01 L176.98 402.18 L177.58 395.02 L178.17 396.86 L178.76 398.83 L179.35 391.71 L179.94 391.28 L180.53 396.39 L181.12 393.37 L181.71 394.39 L182.31 392.09 L182.9 388.73 L183.49 390.5 L184.08 384.84 L184.67 387.03 L185.26 384.05 L185.85 378.13 L186.46 380.67 L187.08 380.88 L187.68 380.21 L188.22 381.34 L188.78 381.56 L189.24 383.43 L189.8 378.76 L190.33 378.22 L190.93 379.9 L191.55 383.96 L192.16 387.62 L192.75 388.54 L193.34 386.96 L193.94 387.73 L194.53 392.45 L195.14 392.6 L195.77 392.76 L196.36 392.93 L196.9 392.27 L197.48 396.92 L197.98 403.06 L198.47 400 L198.97 404.59 L199.46 405.47 L200.05 408.87 L200.55 408.32 L201.09 409.34 L201.7 407.37 L202.42 412.77 L202.91 410.1 L203.48 413.14 L204.08 409.97 L204.7 415.02 L205.3 413.8 L205.87 413.78 L206.36 412.19 L207.06 416.98 L207.64 414.8 L208.17 417.31 L208.73 417.8 L209.3 417.67 L209.86 415.7 L210.44 420.67 L211.09 419.31 L211.58 426.37 L212.11 422.83 L212.67 428.63 L213.23 431.79 L213.76 429.84 L214.25 430.58 L214.93 439.8 L215.58 440.97 L216.15 440.26 L216.61 445.52 L217.15 447.19 L217.4 448.6 L217.4 448.6 L163.77 448.6 Z" fill="#aaa" stroke="none"/>
<path d="M165.35 448.46 L165.65 448.41 L166.02 448.36 L166.45 448.3 L166.93 448.23 L167.45 448.15 L168.01 448.07 L168.6 447.98 L169.21 447.89 L169.82 447.79 L170.44 447.69 L171.06 447.59 L171.66 447.48 L172.14 447.4 L172.63 447.31 L173.14 447.23 L173.65 447.14 L174.17 447.04 L174.7 446.95 L175.24 446.85 L175.78 446.75 L176.32 446.65 L176.86 446.54 L177.41 446.9 L177.95 446.64 L178.49 446.42 L179.02 445.63 L179.55 445.95 L180.08 445.57 L180.61 446.13 L181.15 445.54 L181.69 445.03 L182.24 445.25 L182.78 444.64 L183.32 444.56 L183.86 444.98 L184.39 445.23 L184.92 444.23 L185.44 444.76 L185.95 444.71 L186.46 443.72 L186.95 443.4 L187.43 443.2 L188.02 442.8 L188.61 443.35 L189.19 443.19 L189.77 442.84 L190.33 441.56 L190.88 442.2 L191.41 441.81 L191.93 441.62 L192.42 441.24 L192.89 440.89 L193.33 440.19 L193.74 440.04 L194.45 439.16 L195.03 437.74 L195.52 437.84 L195.96 436.34 L196.41 435.6 L196.9 434.91 L197.43 433.98 L197.98 432.79 L198.52 431.98 L199.06 431.33 L199.57 430.11 L200.05 429.06 L200.7 427.08 L201.28 424.52 L201.85 423.14 L202.42 421.44 L203.03 418.75 L203.65 416.03 L204.25 414.04 L204.78 411.38 L205.36 408.95 L205.86 405.86 L206.36 402.07 L206.88 399.56 L207.39 396.08 L207.94 392.96 L208.54 390.33 L209.18 387.84 L209.83 385.56 L210.35 383.03 L210.9 382.02 L211.43 380.65 L211.88 380.34 L212.48 378.91 L212.98 379.16 L213.59 381.05 L214.25 383.45 L214.75 384.74 L215.28 386.41 L215.82 388.29 L216.35 390.98 L216.87 395.34 L217.4 398.72 L217.93 403.43 L218.45 408 L218.98 412.78 L219.51 418.7 L220.03 425.34 L220.56 430.59 L221.08 435.16 L221.61 438.73 L222.13 440.77 L222.67 443.78 L223.21 445.45 L223.71 447.48 L224.44 448.36 L224.97 448.46" fill="none" stroke="#000" stroke-width="1.5" stroke-dasharray="2.6 1.6" stroke-linejoin="round"/>
<path d="M148.47 448.46 L148.73 448.46 L149.02 448.45 L149.34 448.45 L149.67 448.44 L150.03 448.44 L150.41 448.43 L150.8 448.43 L151.22 448.42 L151.65 448.42 L152.1 448.41 L152.57 448.41 L153.05 448.4 L153.55 448.4 L154.06 448.39 L154.58 448.38 L155.11 448.38 L155.66 448.37 L156.21 448.36 L156.77 448.36 L157.34 448.35 L157.91 448.34 L158.49 448.33 L159.08 448.33 L159.67 448.32 L160.26 448.31 L160.85 448.3 L161.45 448.29 L162.04 448.28 L162.64 448.28 L163.23 448.27 L163.82 448.26 L164.4 448.25 L164.98 448.24 L165.56 448.23 L166.12 448.22 L166.68 448.21 L167.24 448.2 L167.78 448.19 L168.31 448.18 L168.83 448.17 L169.34 448.16 L169.83 448.15 L170.31 448.14 L170.78 448.13 L171.23 448.12 L171.66 448.11 L172.29 448.1 L172.91 448.08 L173.52 448.07 L174.13 448.05 L174.73 448.04 L175.32 448.02 L175.91 448.01 L176.49 447.99 L177.06 447.98 L177.63 447.96 L178.19 447.95 L178.74 447.93 L179.28 447.91 L179.81 447.9 L180.34 447.88 L180.86 447.86 L181.37 447.84 L181.86 447.83 L182.35 447.81 L182.83 447.78 L183.3 447.76 L183.77 447.74 L184.22 447.72 L184.66 447.69 L185.09 447.67 L185.5 447.64 L185.91 447.61 L186.31 447.58 L186.69 447.55 L187.07 447.52 L187.43 447.48 L188.29 447.39 L189.05 447.3 L189.71 447.2 L190.29 447.1 L190.81 446.99 L191.28 446.87 L191.7 446.75 L192.1 446.61 L192.5 446.31 L192.89 446.84 L193.3 446.39 L193.74 446.26 L194.34 445.42 L194.93 445.22 L195.49 444.7 L196.04 445.29 L196.56 444.59 L197.07 444.67 L197.55 444.06 L198.02 443.29 L198.47 443.34 L199.1 442.34 L199.67 440.97 L200.2 440.14 L200.69 439.44 L201.17 437.84 L201.63 436.25 L202.29 434.7 L202.91 430.97 L203.47 428.15 L203.99 425.81 L204.57 422.78 L205.07 418.83 L205.57 416.47 L206.1 413.68 L206.62 410.62 L207.15 406.54 L207.68 403.22 L208.2 399.22 L208.73 395.71 L209.25 392.52 L209.78 388.8 L210.3 386.75 L210.84 384.57 L211.39 382.79 L211.88 381.81 L212.45 379.81 L212.98 379.48 L213.59 380.85 L214.25 383.98 L214.75 385.05 L215.28 386.34 L215.82 388.62 L216.35 391.53 L216.87 395.44 L217.4 399.36 L217.93 403.29 L218.45 408.27 L218.98 413.29 L219.51 419.19 L220.03 425.19 L220.56 429.82 L221.08 434.44 L221.61 438.08 L222.13 441.64 L222.67 443.63 L223.21 446.35 L223.71 447.48 L224.44 448.36 L224.97 448.46" fill="none" stroke="#000" stroke-width="1.4" stroke-linejoin="round"/>
<rect x="150.5" y="373.5" width="74.8" height="75.3" fill="none" stroke="#555" stroke-width="0.9"/>
<line x1="150.5" y1="373.5" x2="150.5" y2="449.2" stroke="#444" stroke-width="1"/>
<line x1="150.1" y1="448.8" x2="225.3" y2="448.8" stroke="#111" stroke-width="1.2"/>
<line x1="149.5" y1="445.11" x2="150.5" y2="445.11" stroke="#666" stroke-width="0.6"/>
<line x1="149.5" y1="441.62" x2="150.5" y2="441.62" stroke="#666" stroke-width="0.6"/>
<line x1="149.5" y1="438.13" x2="150.5" y2="438.13" stroke="#666" stroke-width="0.6"/>
<line x1="149.5" y1="431.15" x2="150.5" y2="431.15" stroke="#666" stroke-width="0.6"/>
<line x1="149.5" y1="427.66" x2="150.5" y2="427.66" stroke="#666" stroke-width="0.6"/>
<line x1="149.5" y1="424.17" x2="150.5" y2="424.17" stroke="#666" stroke-width="0.6"/>
<line x1="149.5" y1="417.19" x2="150.5" y2="417.19" stroke="#666" stroke-width="0.6"/>
<line x1="149.5" y1="413.7" x2="150.5" y2="413.7" stroke="#666" stroke-width="0.6"/>
<line x1="149.5" y1="410.21" x2="150.5" y2="410.21" stroke="#666" stroke-width="0.6"/>
<line x1="149.5" y1="403.23" x2="150.5" y2="403.23" stroke="#666" stroke-width="0.6"/>
<line x1="149.5" y1="399.74" x2="150.5" y2="399.74" stroke="#666" stroke-width="0.6"/>
<line x1="149.5" y1="396.25" x2="150.5" y2="396.25" stroke="#666" stroke-width="0.6"/>
<line x1="149.5" y1="389.27" x2="150.5" y2="389.27" stroke="#666" stroke-width="0.6"/>
<line x1="149.5" y1="385.78" x2="150.5" y2="385.78" stroke="#666" stroke-width="0.6"/>
<line x1="149.5" y1="382.29" x2="150.5" y2="382.29" stroke="#666" stroke-width="0.6"/>
<line x1="148.7" y1="448.6" x2="150.5" y2="448.6" stroke="#000" stroke-width="0.8"/>
<text x="148.2" y="450.69" font-size="5.8" text-anchor="end">0</text>
<line x1="148.7" y1="434.64" x2="150.5" y2="434.64" stroke="#000" stroke-width="0.8"/>
<text x="148.2" y="436.73" font-size="5.8" text-anchor="end">20</text>
<line x1="148.7" y1="420.68" x2="150.5" y2="420.68" stroke="#000" stroke-width="0.8"/>
<text x="148.2" y="422.77" font-size="5.8" text-anchor="end">40</text>
<line x1="148.7" y1="406.72" x2="150.5" y2="406.72" stroke="#000" stroke-width="0.8"/>
<text x="148.2" y="408.81" font-size="5.8" text-anchor="end">60</text>
<line x1="148.7" y1="392.76" x2="150.5" y2="392.76" stroke="#000" stroke-width="0.8"/>
<text x="148.2" y="394.85" font-size="5.8" text-anchor="end">80</text>
<line x1="148.7" y1="378.8" x2="150.5" y2="378.8" stroke="#000" stroke-width="0.8"/>
<text x="148.2" y="380.89" font-size="5.8" text-anchor="end">100</text>
<text x="136.5" y="411" font-size="6.8" text-anchor="middle" transform="rotate(-90 136.5 411)" fill="#222">% of Max</text>
<line x1="159.2" y1="448.8" x2="159.2" y2="450.6" stroke="#000" stroke-width="0.8"/>
<text x="159.2" y="457.6" font-size="5.8" text-anchor="middle">0</text>
<line x1="165.7" y1="448.8" x2="165.7" y2="450.6" stroke="#000" stroke-width="0.8"/>
<text x="166.7" y="457.6" font-size="5.8" text-anchor="middle">10<tspan font-size="4.35" dy="-2">2</tspan></text>
<line x1="184.2" y1="448.8" x2="184.2" y2="450.6" stroke="#000" stroke-width="0.8"/>
<text x="185.2" y="457.6" font-size="5.8" text-anchor="middle">10<tspan font-size="4.35" dy="-2">3</tspan></text>
<line x1="202.7" y1="448.8" x2="202.7" y2="450.6" stroke="#000" stroke-width="0.8"/>
<text x="203.7" y="457.6" font-size="5.8" text-anchor="middle">10<tspan font-size="4.35" dy="-2">4</tspan></text>
<line x1="219.7" y1="448.8" x2="219.7" y2="450.6" stroke="#000" stroke-width="0.8"/>
<text x="220.7" y="457.6" font-size="5.8" text-anchor="middle">10<tspan font-size="4.35" dy="-2">5</tspan></text>
<text x="166.8" y="471.2" font-size="11" textLength="41.3" lengthAdjust="spacingAndGlyphs">VCAM-1</text>
<text x="256.6" y="322.6" font-size="16.5" font-weight="bold">D</text>
<rect x="313.3" y="312.5" width="21" height="8.8" fill="#000"/>
<text x="340.3" y="321.2" font-size="11" font-weight="bold" textLength="64.5" lengthAdjust="spacingAndGlyphs">IFN<tspan font-family="Liberation Serif" font-weight="normal">γ</tspan> / TNF<tspan font-family="Liberation Serif" font-weight="normal">α</tspan></text>
<rect x="417.6" y="313.1" width="20.2" height="7.6" fill="#fff" stroke="#000" stroke-width="1.3"/>
<text x="444.5" y="321.2" font-size="11" font-weight="bold" textLength="56" lengthAdjust="spacingAndGlyphs">MDP / LTA</text>
<rect x="326.2" y="335.6" width="54.2" height="6.9" fill="#000"/>
<line x1="380.4" y1="339.05" x2="384.6" y2="339.05" stroke="#000" stroke-width="1.3"/>
<line x1="384.6" y1="336.55" x2="384.6" y2="341.55" stroke="#000" stroke-width="1.6"/>
<rect x="326.2" y="344.85" width="54.55" height="5.9" fill="#fff" stroke="#000" stroke-width="1.3"/>
<line x1="381.4" y1="347.8" x2="385.4" y2="347.8" stroke="#000" stroke-width="1.3"/>
<line x1="385.4" y1="345.3" x2="385.4" y2="350.3" stroke="#000" stroke-width="1.6"/>
<line x1="321.5" y1="343.3" x2="326.2" y2="343.3" stroke="#000" stroke-width="1.4"/>
<text x="318.8" y="347.5" font-size="12" font-weight="bold" text-anchor="end" textLength="30.05" lengthAdjust="spacingAndGlyphs">CCL2</text>
<rect x="326.2" y="359.35" width="61.8" height="6.9" fill="#000"/>
<line x1="388" y1="362.8" x2="393.8" y2="362.8" stroke="#000" stroke-width="1.3"/>
<line x1="393.8" y1="360.3" x2="393.8" y2="365.3" stroke="#000" stroke-width="1.6"/>
<rect x="326.2" y="368.6" width="62.25" height="5.9" fill="#fff" stroke="#000" stroke-width="1.3"/>
<line x1="389.1" y1="371.55" x2="395" y2="371.55" stroke="#000" stroke-width="1.3"/>
<line x1="395" y1="369.05" x2="395" y2="374.05" stroke="#000" stroke-width="1.6"/>
<line x1="321.5" y1="367.05" x2="326.2" y2="367.05" stroke="#000" stroke-width="1.4"/>
<text x="318.8" y="371.25" font-size="12" font-weight="bold" text-anchor="end" textLength="30.05" lengthAdjust="spacingAndGlyphs">CCL7</text>
<rect x="326.2" y="383.1" width="84.6" height="6.9" fill="#000"/>
<line x1="410.8" y1="386.55" x2="415" y2="386.55" stroke="#000" stroke-width="1.3"/>
<line x1="415" y1="384.05" x2="415" y2="389.05" stroke="#000" stroke-width="1.6"/>
<rect x="326.2" y="392.35" width="45.25" height="5.9" fill="#fff" stroke="#000" stroke-width="1.3"/>
<line x1="372.1" y1="395.3" x2="377.7" y2="395.3" stroke="#000" stroke-width="1.3"/>
<line x1="377.7" y1="392.8" x2="377.7" y2="397.8" stroke="#000" stroke-width="1.6"/>
<line x1="321.5" y1="390.8" x2="326.2" y2="390.8" stroke="#000" stroke-width="1.4"/>
<text x="318.8" y="395" font-size="12" font-weight="bold" text-anchor="end" textLength="30.05" lengthAdjust="spacingAndGlyphs">CCL8</text>
<rect x="326.2" y="406.85" width="68.8" height="6.9" fill="#000"/>
<line x1="395" y1="410.3" x2="401.5" y2="410.3" stroke="#000" stroke-width="1.3"/>
<line x1="401.5" y1="407.8" x2="401.5" y2="412.8" stroke="#000" stroke-width="1.6"/>
<rect x="326.2" y="416.1" width="96.75" height="5.9" fill="#fff" stroke="#000" stroke-width="1.3"/>
<line x1="423.6" y1="419.05" x2="430.8" y2="419.05" stroke="#000" stroke-width="1.3"/>
<line x1="430.8" y1="416.55" x2="430.8" y2="421.55" stroke="#000" stroke-width="1.6"/>
<line x1="321.5" y1="414.55" x2="326.2" y2="414.55" stroke="#000" stroke-width="1.4"/>
<text x="318.8" y="418.75" font-size="12" font-weight="bold" text-anchor="end" textLength="37.86" lengthAdjust="spacingAndGlyphs">CXCL5</text>
<rect x="326.2" y="430.6" width="147.6" height="6.9" fill="#000"/>
<line x1="473.8" y1="434.05" x2="477.7" y2="434.05" stroke="#000" stroke-width="1.3"/>
<line x1="477.7" y1="431.55" x2="477.7" y2="436.55" stroke="#000" stroke-width="1.6"/>
<rect x="326.2" y="439.85" width="56.05" height="5.9" fill="#fff" stroke="#000" stroke-width="1.3"/>
<line x1="382.9" y1="442.8" x2="387.3" y2="442.8" stroke="#000" stroke-width="1.3"/>
<line x1="387.3" y1="440.3" x2="387.3" y2="445.3" stroke="#000" stroke-width="1.6"/>
<line x1="321.5" y1="438.3" x2="326.2" y2="438.3" stroke="#000" stroke-width="1.4"/>
<text x="318.8" y="442.5" font-size="12" font-weight="bold" text-anchor="end" textLength="37.86" lengthAdjust="spacingAndGlyphs">CXCL9</text>
<rect x="326.2" y="454.35" width="72.6" height="6.9" fill="#000"/>
<line x1="398.8" y1="457.8" x2="402.7" y2="457.8" stroke="#000" stroke-width="1.3"/>
<line x1="402.7" y1="455.3" x2="402.7" y2="460.3" stroke="#000" stroke-width="1.6"/>
<rect x="326.2" y="463.6" width="46.75" height="5.9" fill="#fff" stroke="#000" stroke-width="1.3"/>
<line x1="321.5" y1="462.05" x2="326.2" y2="462.05" stroke="#000" stroke-width="1.4"/>
<text x="318.8" y="466.25" font-size="12" font-weight="bold" text-anchor="end" textLength="44.36" lengthAdjust="spacingAndGlyphs">CXCL10</text>
<line x1="353.9" y1="331.3" x2="353.9" y2="473" stroke="#000" stroke-width="1.3" stroke-dasharray="3.2 1.8"/>
<line x1="326.2" y1="331.3" x2="326.2" y2="474.4" stroke="#000" stroke-width="1.6"/>
<line x1="325.4" y1="473.7" x2="488.8" y2="473.7" stroke="#000" stroke-width="1.6"/>
<line x1="326.2" y1="473.2" x2="326.2" y2="478" stroke="#000" stroke-width="1.4"/>
<text transform="translate(327.6 488.6) rotate(-33) skewX(-8)" font-size="11.4" font-weight="bold" text-anchor="end">10<tspan font-size="8" dy="-4.6">-1</tspan></text>
<line x1="353.25" y1="473.2" x2="353.25" y2="478" stroke="#000" stroke-width="1.4"/>
<text transform="translate(354.65 488.6) rotate(-33) skewX(-8)" font-size="11.4" font-weight="bold" text-anchor="end">10<tspan font-size="8" dy="-4.6">0</tspan></text>
<line x1="380.3" y1="473.2" x2="380.3" y2="478" stroke="#000" stroke-width="1.4"/>
<text transform="translate(381.7 488.6) rotate(-33) skewX(-8)" font-size="11.4" font-weight="bold" text-anchor="end">10<tspan font-size="8" dy="-4.6">1</tspan></text>
<line x1="407.35" y1="473.2" x2="407.35" y2="478" stroke="#000" stroke-width="1.4"/>
<text transform="translate(408.75 488.6) rotate(-33) skewX(-8)" font-size="11.4" font-weight="bold" text-anchor="end">10<tspan font-size="8" dy="-4.6">2</tspan></text>
<line x1="434.4" y1="473.2" x2="434.4" y2="478" stroke="#000" stroke-width="1.4"/>
<text transform="translate(435.8 488.6) rotate(-33) skewX(-8)" font-size="11.4" font-weight="bold" text-anchor="end">10<tspan font-size="8" dy="-4.6">3</tspan></text>
<line x1="461.45" y1="473.2" x2="461.45" y2="478" stroke="#000" stroke-width="1.4"/>
<text transform="translate(462.85 488.6) rotate(-33) skewX(-8)" font-size="11.4" font-weight="bold" text-anchor="end">10<tspan font-size="8" dy="-4.6">4</tspan></text>
<line x1="488.5" y1="473.2" x2="488.5" y2="478" stroke="#000" stroke-width="1.4"/>
<text transform="translate(489.9 488.6) rotate(-33) skewX(-8)" font-size="11.4" font-weight="bold" text-anchor="end">10<tspan font-size="8" dy="-4.6">5</tspan></text>
<text x="308.3" y="513" font-size="14.5" font-weight="bold" textLength="86.5" lengthAdjust="spacingAndGlyphs">Fold change</text>
<text x="400" y="513" font-size="11.6" textLength="107" lengthAdjust="spacingAndGlyphs">(inflamed vs. control)</text>
<text x="8.5" y="550.4" font-size="16.5" font-weight="bold">E</text>
<text x="67.8" y="554.5" font-size="11.6" font-weight="bold" text-anchor="middle" textLength="30.29" lengthAdjust="spacingAndGlyphs">CCL2</text>
<text x="18.9" y="597.8" font-size="10.5" font-weight="bold" text-anchor="middle" textLength="33.5" lengthAdjust="spacingAndGlyphs" transform="rotate(-90 18.9 597.8)">ng / ml</text>
<line x1="45.8" y1="630.48" x2="45.8" y2="628.88" stroke="#777" stroke-width="1.2"/>
<line x1="42.3" y1="628.88" x2="49.3" y2="628.88" stroke="#777" stroke-width="1.2"/>
<rect x="38.5" y="630.48" width="14.6" height="2.52" fill="#555" stroke="#333" stroke-width="1"/>
<line x1="68" y1="609.82" x2="68" y2="607.46" stroke="#000" stroke-width="1.3"/>
<line x1="64.2" y1="607.46" x2="71.8" y2="607.46" stroke="#000" stroke-width="1.3"/>
<rect x="60.2" y="609.82" width="15.6" height="23.18" fill="#000"/>
<line x1="90.1" y1="590.16" x2="90.1" y2="585.46" stroke="#000" stroke-width="1.3"/>
<line x1="86.3" y1="585.46" x2="93.9" y2="585.46" stroke="#000" stroke-width="1.3"/>
<rect x="82.85" y="590.71" width="14.5" height="42.29" fill="#fff" stroke="#000" stroke-width="1.1"/>
<line x1="34.5" y1="564.8" x2="34.5" y2="633.5" stroke="#222" stroke-width="1.1"/>
<line x1="34" y1="633" x2="102" y2="633" stroke="#222" stroke-width="1.1"/>
<line x1="45.8" y1="633" x2="45.8" y2="635.8" stroke="#000" stroke-width="1.1"/>
<line x1="68" y1="633" x2="68" y2="635.8" stroke="#000" stroke-width="1.1"/>
<line x1="90.1" y1="633" x2="90.1" y2="635.8" stroke="#000" stroke-width="1.1"/>
<line x1="31.7" y1="633" x2="34.5" y2="633" stroke="#000" stroke-width="1.1"/>
<text x="31.3" y="635.9" font-size="7.9" font-weight="bold" text-anchor="end" textLength="4.12" lengthAdjust="spacingAndGlyphs">0</text>
<line x1="31.7" y1="616.2" x2="34.5" y2="616.2" stroke="#000" stroke-width="1.1"/>
<text x="31.3" y="619.1" font-size="7.9" font-weight="bold" text-anchor="end" textLength="8.23" lengthAdjust="spacingAndGlyphs">10</text>
<line x1="31.7" y1="599.4" x2="34.5" y2="599.4" stroke="#000" stroke-width="1.1"/>
<text x="31.3" y="602.3" font-size="7.9" font-weight="bold" text-anchor="end" textLength="8.23" lengthAdjust="spacingAndGlyphs">20</text>
<line x1="31.7" y1="582.6" x2="34.5" y2="582.6" stroke="#000" stroke-width="1.1"/>
<text x="31.3" y="585.5" font-size="7.9" font-weight="bold" text-anchor="end" textLength="8.23" lengthAdjust="spacingAndGlyphs">30</text>
<line x1="31.7" y1="565.8" x2="34.5" y2="565.8" stroke="#000" stroke-width="1.1"/>
<text x="31.3" y="568.7" font-size="7.9" font-weight="bold" text-anchor="end" textLength="8.23" lengthAdjust="spacingAndGlyphs">40</text>
<text transform="translate(46.7 644.7) rotate(-27)" font-size="9.2" text-anchor="end">control</text>
<text transform="translate(67.1 647) rotate(-27)" font-size="9.2" text-anchor="end">IFN<tspan font-family="Liberation Serif" font-size="9.9" dy="1.2">γ</tspan><tspan dy="-1.2">&#160;&#160;/ TNF</tspan><tspan font-family="Liberation Serif" font-size="9.9">α</tspan></text>
<text transform="translate(90.6 646) rotate(-27)" font-size="9.2" text-anchor="end">LTA / MDP</text>
<text x="170.6" y="554.5" font-size="11.6" font-weight="bold" text-anchor="middle" textLength="30.29" lengthAdjust="spacingAndGlyphs">CCL7</text>
<text x="118.3" y="597.8" font-size="10.5" font-weight="bold" text-anchor="middle" textLength="33.5" lengthAdjust="spacingAndGlyphs" transform="rotate(-90 118.3 597.8)">ng / ml</text>
<line x1="141.5" y1="632.2" x2="156.1" y2="632.2" stroke="#666" stroke-width="1"/>
<line x1="171" y1="603.97" x2="171" y2="580.58" stroke="#000" stroke-width="1.3"/>
<line x1="167.2" y1="580.58" x2="174.8" y2="580.58" stroke="#000" stroke-width="1.3"/>
<rect x="163.2" y="603.97" width="15.6" height="29.03" fill="#000"/>
<line x1="193.1" y1="606.48" x2="193.1" y2="603.43" stroke="#000" stroke-width="1.3"/>
<line x1="189.3" y1="603.43" x2="196.9" y2="603.43" stroke="#000" stroke-width="1.3"/>
<rect x="185.85" y="607.03" width="14.5" height="25.97" fill="#fff" stroke="#000" stroke-width="1.1"/>
<line x1="138" y1="564.8" x2="138" y2="633.5" stroke="#222" stroke-width="1.1"/>
<line x1="137.5" y1="633" x2="205" y2="633" stroke="#222" stroke-width="1.1"/>
<line x1="148.8" y1="633" x2="148.8" y2="635.8" stroke="#000" stroke-width="1.1"/>
<line x1="171" y1="633" x2="171" y2="635.8" stroke="#000" stroke-width="1.1"/>
<line x1="193.1" y1="633" x2="193.1" y2="635.8" stroke="#000" stroke-width="1.1"/>
<line x1="135.2" y1="633" x2="138" y2="633" stroke="#000" stroke-width="1.1"/>
<text x="134.8" y="635.9" font-size="7.9" font-weight="bold" text-anchor="end" textLength="4.12" lengthAdjust="spacingAndGlyphs">0</text>
<line x1="135.2" y1="619.56" x2="138" y2="619.56" stroke="#000" stroke-width="1.1"/>
<text x="134.8" y="622.46" font-size="7.9" font-weight="bold" text-anchor="end" textLength="8.23" lengthAdjust="spacingAndGlyphs">30</text>
<line x1="135.2" y1="606.12" x2="138" y2="606.12" stroke="#000" stroke-width="1.1"/>
<text x="134.8" y="609.02" font-size="7.9" font-weight="bold" text-anchor="end" textLength="8.23" lengthAdjust="spacingAndGlyphs">60</text>
<line x1="135.2" y1="592.68" x2="138" y2="592.68" stroke="#000" stroke-width="1.1"/>
<text x="134.8" y="595.58" font-size="7.9" font-weight="bold" text-anchor="end" textLength="8.23" lengthAdjust="spacingAndGlyphs">90</text>
<line x1="135.2" y1="579.24" x2="138" y2="579.24" stroke="#000" stroke-width="1.1"/>
<text x="134.8" y="582.14" font-size="7.9" font-weight="bold" text-anchor="end" textLength="12.35" lengthAdjust="spacingAndGlyphs">120</text>
<line x1="135.2" y1="565.8" x2="138" y2="565.8" stroke="#000" stroke-width="1.1"/>
<text x="134.8" y="568.7" font-size="7.9" font-weight="bold" text-anchor="end" textLength="12.35" lengthAdjust="spacingAndGlyphs">150</text>
<text transform="translate(149.7 644.7) rotate(-27)" font-size="9.2" text-anchor="end">control</text>
<text transform="translate(170.1 647) rotate(-27)" font-size="9.2" text-anchor="end">IFN<tspan font-family="Liberation Serif" font-size="9.9" dy="1.2">γ</tspan><tspan dy="-1.2">&#160;&#160;/ TNF</tspan><tspan font-family="Liberation Serif" font-size="9.9">α</tspan></text>
<text transform="translate(193.6 646) rotate(-27)" font-size="9.2" text-anchor="end">LTA / MDP</text>
<text x="276.5" y="554.5" font-size="11.6" font-weight="bold" text-anchor="middle" textLength="38.03" lengthAdjust="spacingAndGlyphs">CXCL5</text>
<text x="223.6" y="597.8" font-size="10.5" font-weight="bold" text-anchor="middle" textLength="33.5" lengthAdjust="spacingAndGlyphs" transform="rotate(-90 223.6 597.8)">ng / ml</text>
<line x1="255.3" y1="631.88" x2="255.3" y2="631.43" stroke="#777" stroke-width="1.2"/>
<line x1="251.8" y1="631.43" x2="258.8" y2="631.43" stroke="#777" stroke-width="1.2"/>
<rect x="248" y="631.88" width="14.6" height="1.12" fill="#555" stroke="#333" stroke-width="1"/>
<line x1="277.5" y1="613.51" x2="277.5" y2="608.36" stroke="#000" stroke-width="1.3"/>
<line x1="273.7" y1="608.36" x2="281.3" y2="608.36" stroke="#000" stroke-width="1.3"/>
<rect x="269.7" y="613.51" width="15.6" height="19.49" fill="#000"/>
<line x1="299.6" y1="589.32" x2="299.6" y2="587.08" stroke="#000" stroke-width="1.3"/>
<line x1="295.8" y1="587.08" x2="303.4" y2="587.08" stroke="#000" stroke-width="1.3"/>
<rect x="292.35" y="589.87" width="14.5" height="43.13" fill="#fff" stroke="#000" stroke-width="1.1"/>
<line x1="243.4" y1="564.8" x2="243.4" y2="633.5" stroke="#222" stroke-width="1.1"/>
<line x1="242.9" y1="633" x2="311.5" y2="633" stroke="#222" stroke-width="1.1"/>
<line x1="255.3" y1="633" x2="255.3" y2="635.8" stroke="#000" stroke-width="1.1"/>
<line x1="277.5" y1="633" x2="277.5" y2="635.8" stroke="#000" stroke-width="1.1"/>
<line x1="299.6" y1="633" x2="299.6" y2="635.8" stroke="#000" stroke-width="1.1"/>
<line x1="240.6" y1="633" x2="243.4" y2="633" stroke="#000" stroke-width="1.1"/>
<text x="240.2" y="635.9" font-size="7.9" font-weight="bold" text-anchor="end" textLength="10.29" lengthAdjust="spacingAndGlyphs">0.0</text>
<line x1="240.6" y1="621.8" x2="243.4" y2="621.8" stroke="#000" stroke-width="1.1"/>
<text x="240.2" y="624.7" font-size="7.9" font-weight="bold" text-anchor="end" textLength="10.29" lengthAdjust="spacingAndGlyphs">0.5</text>
<line x1="240.6" y1="610.6" x2="243.4" y2="610.6" stroke="#000" stroke-width="1.1"/>
<text x="240.2" y="613.5" font-size="7.9" font-weight="bold" text-anchor="end" textLength="10.29" lengthAdjust="spacingAndGlyphs">1.0</text>
<line x1="240.6" y1="599.4" x2="243.4" y2="599.4" stroke="#000" stroke-width="1.1"/>
<text x="240.2" y="602.3" font-size="7.9" font-weight="bold" text-anchor="end" textLength="10.29" lengthAdjust="spacingAndGlyphs">1.5</text>
<line x1="240.6" y1="588.2" x2="243.4" y2="588.2" stroke="#000" stroke-width="1.1"/>
<text x="240.2" y="591.1" font-size="7.9" font-weight="bold" text-anchor="end" textLength="10.29" lengthAdjust="spacingAndGlyphs">2.0</text>
<line x1="240.6" y1="577" x2="243.4" y2="577" stroke="#000" stroke-width="1.1"/>
<text x="240.2" y="579.9" font-size="7.9" font-weight="bold" text-anchor="end" textLength="10.29" lengthAdjust="spacingAndGlyphs">2.5</text>
<line x1="240.6" y1="565.8" x2="243.4" y2="565.8" stroke="#000" stroke-width="1.1"/>
<text x="240.2" y="568.7" font-size="7.9" font-weight="bold" text-anchor="end" textLength="10.29" lengthAdjust="spacingAndGlyphs">3.0</text>
<text transform="translate(256.2 644.7) rotate(-27)" font-size="9.2" text-anchor="end">control</text>
<text transform="translate(276.6 647) rotate(-27)" font-size="9.2" text-anchor="end">IFN<tspan font-family="Liberation Serif" font-size="9.9" dy="1.2">γ</tspan><tspan dy="-1.2">&#160;&#160;/ TNF</tspan><tspan font-family="Liberation Serif" font-size="9.9">α</tspan></text>
<text transform="translate(300.1 646) rotate(-27)" font-size="9.2" text-anchor="end">LTA / MDP</text>
<text x="379" y="554.5" font-size="11.6" font-weight="bold" text-anchor="middle" textLength="38.03" lengthAdjust="spacingAndGlyphs">CXCL9</text>
<text x="327.4" y="597.8" font-size="10.5" font-weight="bold" text-anchor="middle" textLength="33.5" lengthAdjust="spacingAndGlyphs" transform="rotate(-90 327.4 597.8)">ng / ml</text>
<line x1="377.5" y1="595.67" x2="377.5" y2="577.75" stroke="#000" stroke-width="1.3"/>
<line x1="373.7" y1="577.75" x2="381.3" y2="577.75" stroke="#000" stroke-width="1.3"/>
<rect x="369.7" y="595.67" width="15.6" height="37.33" fill="#000"/>
<line x1="344.2" y1="564.8" x2="344.2" y2="633.5" stroke="#222" stroke-width="1.1"/>
<line x1="343.7" y1="633" x2="411.5" y2="633" stroke="#222" stroke-width="1.1"/>
<line x1="355.3" y1="633" x2="355.3" y2="635.8" stroke="#000" stroke-width="1.1"/>
<line x1="377.5" y1="633" x2="377.5" y2="635.8" stroke="#000" stroke-width="1.1"/>
<line x1="399.6" y1="633" x2="399.6" y2="635.8" stroke="#000" stroke-width="1.1"/>
<line x1="341.4" y1="633" x2="344.2" y2="633" stroke="#000" stroke-width="1.1"/>
<text x="339.7" y="635.9" font-size="7.9" font-weight="bold" text-anchor="end" textLength="4.12" lengthAdjust="spacingAndGlyphs">0</text>
<line x1="341.4" y1="621.8" x2="344.2" y2="621.8" stroke="#000" stroke-width="1.1"/>
<text x="339.7" y="624.7" font-size="7.9" font-weight="bold" text-anchor="end" textLength="4.12" lengthAdjust="spacingAndGlyphs">3</text>
<line x1="341.4" y1="610.6" x2="344.2" y2="610.6" stroke="#000" stroke-width="1.1"/>
<text x="339.7" y="613.5" font-size="7.9" font-weight="bold" text-anchor="end" textLength="4.12" lengthAdjust="spacingAndGlyphs">6</text>
<line x1="341.4" y1="599.4" x2="344.2" y2="599.4" stroke="#000" stroke-width="1.1"/>
<text x="339.7" y="602.3" font-size="7.9" font-weight="bold" text-anchor="end" textLength="4.12" lengthAdjust="spacingAndGlyphs">9</text>
<line x1="341.4" y1="588.2" x2="344.2" y2="588.2" stroke="#000" stroke-width="1.1"/>
<text x="339.7" y="591.1" font-size="7.9" font-weight="bold" text-anchor="end" textLength="8.23" lengthAdjust="spacingAndGlyphs">12</text>
<line x1="341.4" y1="577" x2="344.2" y2="577" stroke="#000" stroke-width="1.1"/>
<text x="339.7" y="579.9" font-size="7.9" font-weight="bold" text-anchor="end" textLength="8.23" lengthAdjust="spacingAndGlyphs">15</text>
<line x1="341.4" y1="565.8" x2="344.2" y2="565.8" stroke="#000" stroke-width="1.1"/>
<text x="339.7" y="568.7" font-size="7.9" font-weight="bold" text-anchor="end" textLength="8.23" lengthAdjust="spacingAndGlyphs">18</text>
<text transform="translate(356.2 644.7) rotate(-27)" font-size="9.2" text-anchor="end">control</text>
<text transform="translate(376.6 647) rotate(-27)" font-size="9.2" text-anchor="end">IFN<tspan font-family="Liberation Serif" font-size="9.9" dy="1.2">γ</tspan><tspan dy="-1.2">&#160;&#160;/ TNF</tspan><tspan font-family="Liberation Serif" font-size="9.9">α</tspan></text>
<text transform="translate(400.1 646) rotate(-27)" font-size="9.2" text-anchor="end">LTA / MDP</text>
<text x="476.3" y="554.5" font-size="11.6" font-weight="bold" text-anchor="middle" textLength="44.48" lengthAdjust="spacingAndGlyphs">CXCL10</text>
<text x="426.8" y="597.8" font-size="10.5" font-weight="bold" text-anchor="middle" textLength="33.5" lengthAdjust="spacingAndGlyphs" transform="rotate(-90 426.8 597.8)">ng / ml</text>
<line x1="446.8" y1="632.2" x2="461.4" y2="632.2" stroke="#666" stroke-width="1"/>
<line x1="476.3" y1="588.2" x2="476.3" y2="580.14" stroke="#000" stroke-width="1.3"/>
<line x1="472.5" y1="580.14" x2="480.1" y2="580.14" stroke="#000" stroke-width="1.3"/>
<rect x="468.5" y="588.2" width="15.6" height="44.8" fill="#000"/>
<line x1="498.4" y1="624.49" x2="498.4" y2="620.01" stroke="#000" stroke-width="1.3"/>
<line x1="494.6" y1="620.01" x2="502.2" y2="620.01" stroke="#000" stroke-width="1.3"/>
<rect x="491.15" y="625.04" width="14.5" height="7.96" fill="#fff" stroke="#000" stroke-width="1.1"/>
<line x1="443.1" y1="564.8" x2="443.1" y2="633.5" stroke="#222" stroke-width="1.1"/>
<line x1="442.6" y1="633" x2="510.3" y2="633" stroke="#222" stroke-width="1.1"/>
<line x1="454.1" y1="633" x2="454.1" y2="635.8" stroke="#000" stroke-width="1.1"/>
<line x1="476.3" y1="633" x2="476.3" y2="635.8" stroke="#000" stroke-width="1.1"/>
<line x1="498.4" y1="633" x2="498.4" y2="635.8" stroke="#000" stroke-width="1.1"/>
<line x1="440.3" y1="633" x2="443.1" y2="633" stroke="#000" stroke-width="1.1"/>
<text x="439.3" y="635.9" font-size="7.9" font-weight="bold" text-anchor="end" textLength="4.12" lengthAdjust="spacingAndGlyphs">0</text>
<line x1="440.3" y1="619.56" x2="443.1" y2="619.56" stroke="#000" stroke-width="1.1"/>
<text x="439.3" y="622.46" font-size="7.9" font-weight="bold" text-anchor="end" textLength="4.12" lengthAdjust="spacingAndGlyphs">3</text>
<line x1="440.3" y1="606.12" x2="443.1" y2="606.12" stroke="#000" stroke-width="1.1"/>
<text x="439.3" y="609.02" font-size="7.9" font-weight="bold" text-anchor="end" textLength="4.12" lengthAdjust="spacingAndGlyphs">6</text>
<line x1="440.3" y1="592.68" x2="443.1" y2="592.68" stroke="#000" stroke-width="1.1"/>
<text x="439.3" y="595.58" font-size="7.9" font-weight="bold" text-anchor="end" textLength="4.12" lengthAdjust="spacingAndGlyphs">9</text>
<line x1="440.3" y1="579.24" x2="443.1" y2="579.24" stroke="#000" stroke-width="1.1"/>
<text x="439.3" y="582.14" font-size="7.9" font-weight="bold" text-anchor="end" textLength="8.23" lengthAdjust="spacingAndGlyphs">12</text>
<line x1="440.3" y1="565.8" x2="443.1" y2="565.8" stroke="#000" stroke-width="1.1"/>
<text x="439.3" y="568.7" font-size="7.9" font-weight="bold" text-anchor="end" textLength="8.23" lengthAdjust="spacingAndGlyphs">15</text>
<text transform="translate(455 644.7) rotate(-27)" font-size="9.2" text-anchor="end">control</text>
<text transform="translate(475.4 647) rotate(-27)" font-size="9.2" text-anchor="end">IFN<tspan font-family="Liberation Serif" font-size="9.9" dy="1.2">γ</tspan><tspan dy="-1.2">&#160;&#160;/ TNF</tspan><tspan font-family="Liberation Serif" font-size="9.9">α</tspan></text>
<text transform="translate(498.9 646) rotate(-27)" font-size="9.2" text-anchor="end">LTA / MDP</text>
<line x1="45" y1="573.1" x2="90.4" y2="573.1" stroke="#444" stroke-width="1.15"/>
<text x="67.7" y="574.7" font-size="10" font-weight="bold" text-anchor="middle" fill="#222">***</text>
<line x1="45" y1="583" x2="66.5" y2="583" stroke="#444" stroke-width="1.15"/>
<text x="55.75" y="584.6" font-size="10" font-weight="bold" text-anchor="middle" fill="#222">***</text>
<line x1="69.3" y1="583" x2="90.4" y2="583" stroke="#444" stroke-width="1.15"/>
<text x="79.85" y="584.6" font-size="10" font-weight="bold" text-anchor="middle" fill="#222">**</text>
<line x1="147.5" y1="573.8" x2="193.8" y2="573.8" stroke="#444" stroke-width="1.15"/>
<text x="170.65" y="575.4" font-size="10" font-weight="bold" text-anchor="middle" fill="#222">***</text>
<line x1="253.8" y1="572" x2="300" y2="572" stroke="#444" stroke-width="1.15"/>
<text x="276.9" y="573.6" font-size="10" font-weight="bold" text-anchor="middle" fill="#222">***</text>
<line x1="253.8" y1="583" x2="275" y2="583" stroke="#444" stroke-width="1.15"/>
<text x="264.4" y="584.6" font-size="10" font-weight="bold" text-anchor="middle" fill="#222">*</text>
<line x1="278.8" y1="583" x2="300" y2="583" stroke="#444" stroke-width="1.15"/>
<text x="289.4" y="584.6" font-size="10" font-weight="bold" text-anchor="middle" fill="#222">*</text>
<line x1="453.8" y1="577" x2="475" y2="577" stroke="#444" stroke-width="1.15"/>
<text x="464.4" y="578.6" font-size="10" font-weight="bold" text-anchor="middle" fill="#222">**</text>
<line x1="478" y1="577" x2="500" y2="577" stroke="#444" stroke-width="1.15"/>
<text x="489" y="578.6" font-size="10" font-weight="bold" text-anchor="middle" fill="#222">*</text>
<line x1="354.5" y1="575" x2="377" y2="575" stroke="#444" stroke-width="1.2"/>
<line x1="379.3" y1="575" x2="401.3" y2="575" stroke="#444" stroke-width="1.2"/>
<text x="354.4" y="573.5" font-size="7.5" font-style="italic" textLength="22.6" lengthAdjust="spacingAndGlyphs" fill="#222">p=0.06</text>
<text x="379.4" y="573.5" font-size="7.5" font-style="italic" textLength="22" lengthAdjust="spacingAndGlyphs" fill="#222">p=0.11</text>
</svg>
</body></html>
